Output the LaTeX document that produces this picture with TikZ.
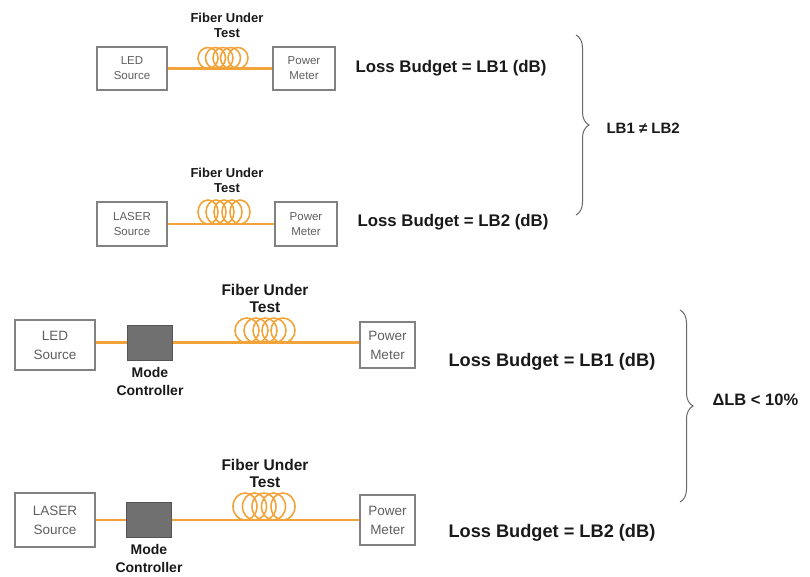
\documentclass[tikz,border=0pt]{standalone}
\usepackage{fontspec}
\setmainfont{Liberation Sans}
\usetikzlibrary{decorations.pathreplacing}
\definecolor{fiberorange}{RGB}{242,163,58}
\definecolor{boxgray}{RGB}{130,130,130}
\definecolor{labelgray}{RGB}{95,95,95}
\definecolor{modegray}{RGB}{112,112,112}
\definecolor{textdark}{RGB}{25,25,25}

\begin{document}
\begin{tikzpicture}[x=1pt, y=-1pt,
    unit/.style={draw=boxgray, line width=1.3pt, fill=white, align=center, text=labelgray, inner sep=0pt},
    smallunit/.style={unit, font=\fontsize{11.5}{15}\selectfont},
    bigunit/.style={unit, font=\fontsize{13.5}{19}\selectfont},
    modectl/.style={draw=modegray!75!black, line width=1pt, fill=modegray, minimum width=45pt, minimum height=35pt},
    modelbl/.style={align=center, text=textdark, font=\bfseries\fontsize{14}{18}\selectfont},
    fiber/.style={draw=fiberorange, line width=2.2pt},
    bigfiber/.style={fiber, line width=2.8pt},
    loop/.style={draw=fiberorange, line width=1.6pt},
    fiberlbl/.style={align=center, text=textdark, font=\bfseries\fontsize{13}{15}\selectfont},
    bigfiberlbl/.style={fiberlbl, font=\bfseries\fontsize{15.5}{17}\selectfont},
    budget/.style={anchor=west, text=textdark, font=\bfseries\fontsize{16.8}{18}\selectfont},
    bigbudget/.style={budget, font=\bfseries\fontsize{18.2}{20}\selectfont},
    bracket/.style={draw=boxgray!80!black, line width=1pt, decorate, decoration={brace, amplitude=13pt}}
]
    \useasboundingbox (0,0) rectangle (810,576);

    % Setup 1: LED source
    \node[smallunit, minimum width=70pt, minimum height=43pt] (src1) at (132,68.5) {LED\\Source};
    \node[smallunit, minimum width=62pt, minimum height=43pt] (pm1) at (304,68.5) {Power\\Meter};
    \draw[fiber] (src1.east) -- (pm1.west);
    \foreach \i in {0,...,4}
        \draw[loop] (208+7.5*\i,58) ellipse [x radius=10pt, y radius=10.5pt];
    \node[fiberlbl] (fut1) at (227,25) {Fiber Under\\Test};
    \node[budget] (lb1) at (352,68) {Loss Budget = LB1 (dB)};

    % Setup 2: LASER source
    \node[smallunit, minimum width=70pt, minimum height=44pt] (src2) at (132,224) {LASER\\Source};
    \node[smallunit, minimum width=62pt, minimum height=44pt] (pm2) at (306,224) {Power\\Meter};
    \draw[fiber] (src2.east) -- (pm2.west);
    \foreach \i in {0,...,4}
        \draw[loop] (208+8*\i,212) ellipse [x radius=10pt, y radius=12pt];
    \node[fiberlbl] (fut2) at (227,180.5) {Fiber Under\\Test};
    \node[budget] (lb2) at (354,222) {Loss Budget = LB2 (dB)};

    % Brace 1
    \coordinate (br1a) at (576,35);
    \coordinate (br1b) at (576,215);
    \draw[bracket] (br1a) -- (br1b);
    \node[anchor=west, text=textdark, font=\bfseries\fontsize{15}{17}\selectfont] (neq) at (603,128) {LB1 ≠ LB2};

    % Setup 3: LED source with mode controller
    \node[bigunit, minimum width=80pt, minimum height=50pt] (src3) at (55,345) {LED\\Source};
    \node[modectl] (mc3) at (150,342.5) {};
    \node[bigunit, minimum width=55pt, minimum height=46pt] (pm3) at (387.5,345) {Power\\Meter};
    \draw[bigfiber] (src3.east |- mc3.west) -- (mc3.west);
    \draw[bigfiber] (mc3.east) -- (pm3.west |- mc3.east);
    \foreach \i in {0,...,4}
        \draw[loop] (247+9*\i,330.5) ellipse [x radius=12pt, y radius=12.5pt];
    \node[modelbl] (mcl3) at (150,381) {Mode\\Controller};
    \node[bigfiberlbl] (fut3) at (265,298.5) {Fiber Under\\Test};
    \node[bigbudget] (lb3) at (445,362) {Loss Budget = LB1 (dB)};

    % Setup 4: LASER source with mode controller
    \node[bigunit, minimum width=80pt, minimum height=54pt] (src4) at (55,520) {LASER\\Source};
    \node[modectl] (mc4) at (149,520) {};
    \node[bigunit, minimum width=55pt, minimum height=50pt] (pm4) at (387.5,520) {Power\\Meter};
    \draw[bigfiber] (src4.east) -- (mc4.west);
    \draw[bigfiber] (mc4.east) -- (pm4.west);
    \foreach \i in {0,...,4}
        \draw[loop] (245+9.5*\i,506.5) ellipse [x radius=12pt, y radius=13.5pt];
    \node[modelbl] (mcl4) at (149,558.5) {Mode\\Controller};
    \node[bigfiberlbl] (fut4) at (265,473.5) {Fiber Under\\Test};
    \node[bigbudget] (lb4) at (445,533) {Loss Budget = LB2 (dB)};

    % Brace 2
    \coordinate (br2a) at (680,310);
    \coordinate (br2b) at (680,502);
    \draw[bracket] (br2a) -- (br2b);
    \node[anchor=west, text=textdark, font=\bfseries\fontsize{16.5}{18}\selectfont] (dlb) at (709,400) {ΔLB < 10\%};
\end{tikzpicture}
\end{document}
